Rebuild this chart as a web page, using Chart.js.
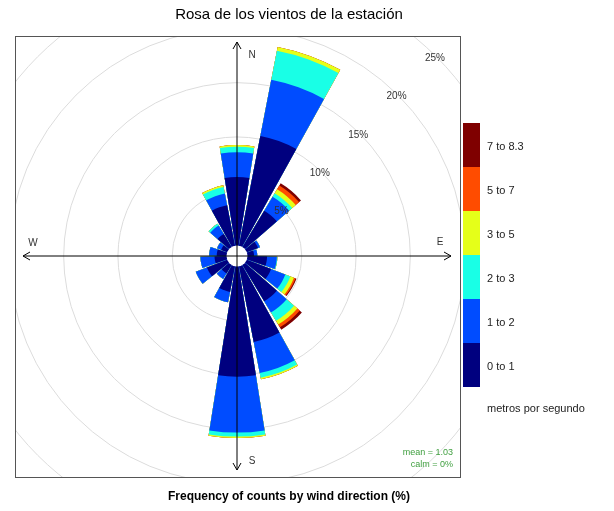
<!DOCTYPE html>
<html>
<head>
<meta charset="utf-8">
<script src="https://cdn.jsdelivr.net/npm/chart.js@4.4.1/dist/chart.umd.min.js"></script>
<style>
  html, body { margin: 0; padding: 0; background: #fff; }
</style>
</head>
<body>
<canvas id="rose" width="614" height="511"></canvas>
<script>
const directions = [0, 20, 40, 60, 80, 100, 120, 140, 160, 180, 200, 220, 240, 260, 280, 300, 320, 340];
const speedBands = ["0 to 1", "1 to 2", "2 to 3", "3 to 5", "5 to 7", "7 to 8.3"];
const bandColours = ["#00007F", "#004CFF", "#19FFE6", "#E5FF19", "#FF4C00", "#7F0000"];

// frequency (%) of counts per direction, one array per speed band
const band0to1 = [6.3, 10.3, 3.9, 1.1, 0.6, 1.8, 2.4, 3.9, 7.1, 10.15, 2.4, 0.9, 2.0, 1.1, 0.9, 0.6, 1.4, 3.8];
const band1to2 = [2.3, 5.27, 1.5, 0.2, 0.3, 0.9, 1.4, 1.2, 2.9, 5.15, 0.96, 0.6, 1.1, 1.3, 0.7, 0.4, 0.9, 1.1];
const band2to3 = [0.5, 2.73, 0.37, 0, 0, 0.05, 0.5, 0.9, 0.45, 0.37, 0, 0, 0, 0, 0, 0, 0.2, 0.6];
const band3to5 = [0.15, 0.35, 0.43, 0, 0, 0, 0.35, 0.4, 0.15, 0.13, 0, 0, 0, 0, 0, 0, 0, 0.16];
const band5to7 = [0, 0, 0.4, 0, 0, 0, 0.15, 0.3, 0, 0, 0, 0, 0, 0, 0, 0, 0, 0];
const band7to83 = [0, 0, 0.24, 0, 0, 0, 0.1, 0.25, 0, 0, 0, 0, 0, 0, 0, 0, 0, 0];

const ringTicks = [5, 10, 15, 20, 25];
const ringLabels = ["5%", "10%", "15%", "20%", "25%"];
const compass = ["N", "E", "S", "W"];
const meanText = "mean = 1.03";
const calmText = "calm = 0%";

const FONT = "'Liberation Sans', Arial, sans-serif";
const bands = [band0to1, band1to2, band2to3, band3to5, band5to7, band7to83];

// stacked (cumulative) wedges, each followed by a small empty gap slot
const datasets = bands.map((b, k) => {
  const data = [];
  directions.forEach((d, i) => {
    let cum = 0;
    for (let j = 0; j <= k; j++) cum += bands[j][i];
    data.push(cum, 0);
  });
  return {
    label: speedBands[k],
    data: data,
    backgroundColor: c => (c.index % 2 ? "rgba(0,0,0,0)" : bandColours[k]),
    borderWidth: 0,
    angle: c => (c.index % 2 ? 2 : 18),
    clip: 0
  };
});
const labels = [];
directions.forEach(d => labels.push(d + "°", ""));

const rosePlugin = {
  id: "rose",
  beforeDatasetsDraw(chart) {
    const { ctx, chartArea: a } = chart;
    const r = chart.scales.r;
    ctx.save();
    ctx.beginPath();
    ctx.rect(a.left, a.top, a.right - a.left, a.bottom - a.top);
    ctx.clip();
    ctx.strokeStyle = "#dcdcdc";
    ctx.lineWidth = 1;
    ringTicks.forEach(v => {
      ctx.beginPath();
      ctx.arc(r.xCenter, r.yCenter, r.getDistanceFromCenterForValue(v), 0, 2 * Math.PI);
      ctx.stroke();
    });
    ctx.restore();
  },
  afterDatasetsDraw(chart) {
    const ctx = chart.ctx;
    const r = chart.scales.r;
    const cx = r.xCenter, cy = r.yCenter;
    ctx.save();
    // calm hole
    ctx.fillStyle = "#fff";
    ctx.beginPath();
    ctx.arc(cx, cy, r.getDistanceFromCenterForValue(0), 0, 2 * Math.PI);
    ctx.fill();

    // compass arrows
    const len = r.drawingArea - 6;
    ctx.strokeStyle = "#000";
    ctx.lineWidth = 1;
    [[0, -1], [1, 0], [0, 1], [-1, 0]].forEach(([dx, dy]) => {
      const tx = cx + dx * len, ty = cy + dy * len;
      ctx.beginPath();
      ctx.moveTo(cx, cy);
      ctx.lineTo(tx, ty);
      const px = -dy, py = dx;
      ctx.moveTo(tx - dx * 7 + px * 4, ty - dy * 7 + py * 4);
      ctx.lineTo(tx, ty);
      ctx.lineTo(tx - dx * 7 - px * 4, ty - dy * 7 - py * 4);
      ctx.stroke();
    });
    ctx.fillStyle = "#333";
    ctx.font = "10px " + FONT;
    ctx.textAlign = "center";
    ctx.textBaseline = "middle";
    const pos = [[15, -201], [203, -14], [15, 205], [-204, -13]];
    compass.forEach((t, i) => ctx.fillText(t, cx + pos[i][0], cy + pos[i][1]));

    // ring labels along the NE diagonal
    ringTicks.forEach((v, i) => {
      const d = r.getDistanceFromCenterForValue(v) - 2;
      ctx.fillText(ringLabels[i], cx + d * Math.SQRT1_2, cy - d * Math.SQRT1_2);
    });

    ctx.fillStyle = "#41a041";
    ctx.font = "9px " + FONT;
    ctx.textAlign = "right";
    ctx.fillText(meanText, chart.chartArea.right - 7, chart.chartArea.bottom - 24);
    ctx.fillText(calmText, chart.chartArea.right - 7, chart.chartArea.bottom - 12);
    ctx.restore();
  },
  afterDraw(chart) {
    const { ctx, chartArea: a } = chart;
    ctx.save();
    ctx.strokeStyle = "#555";
    ctx.lineWidth = 1;
    ctx.strokeRect(a.left + 0.5, a.top + 0.5, a.right - a.left, a.bottom - a.top);

    ctx.fillStyle = "#000";
    ctx.textAlign = "center";
    ctx.textBaseline = "middle";
    ctx.font = "15px " + FONT;
    ctx.fillText("Rosa de los vientos de la estación", 289, 15);
    ctx.font = "bold 12px " + FONT;
    ctx.fillText("Frequency of counts by wind direction (%)", 289, 497);

    // colour key
    const kx = 463, ky = 123, kw = 17, kh = 44;
    ctx.font = "11px " + FONT;
    ctx.textAlign = "left";
    for (let i = 0; i < speedBands.length; i++) {
      const k = speedBands.length - 1 - i;
      ctx.fillStyle = bandColours[k];
      ctx.fillRect(kx, ky + i * kh, kw, kh);
      ctx.fillStyle = "#222";
      ctx.fillText(speedBands[k], 487, ky + i * kh + kh / 2 + 2);
    }
    ctx.fillText("metros por segundo", 487, 409);
    ctx.restore();
  }
};

new Chart(document.getElementById("rose"), {
  type: "polarArea",
  data: { labels: labels, datasets: datasets },
  options: {
    responsive: false,
    animation: false,
    events: [],
    layout: { padding: { left: 15, top: 36, right: 154, bottom: 34 } },
    plugins: { legend: { display: false }, tooltip: { enabled: false } },
    scales: {
      r: {
        min: -0.97,
        max: 19.3,
        bounds: "data",
        startAngle: -9,
        ticks: { display: false },
        grid: { display: false },
        angleLines: { display: false },
        pointLabels: { display: false }
      }
    }
  },
  plugins: [rosePlugin]
});
</script>
</body>
</html>
